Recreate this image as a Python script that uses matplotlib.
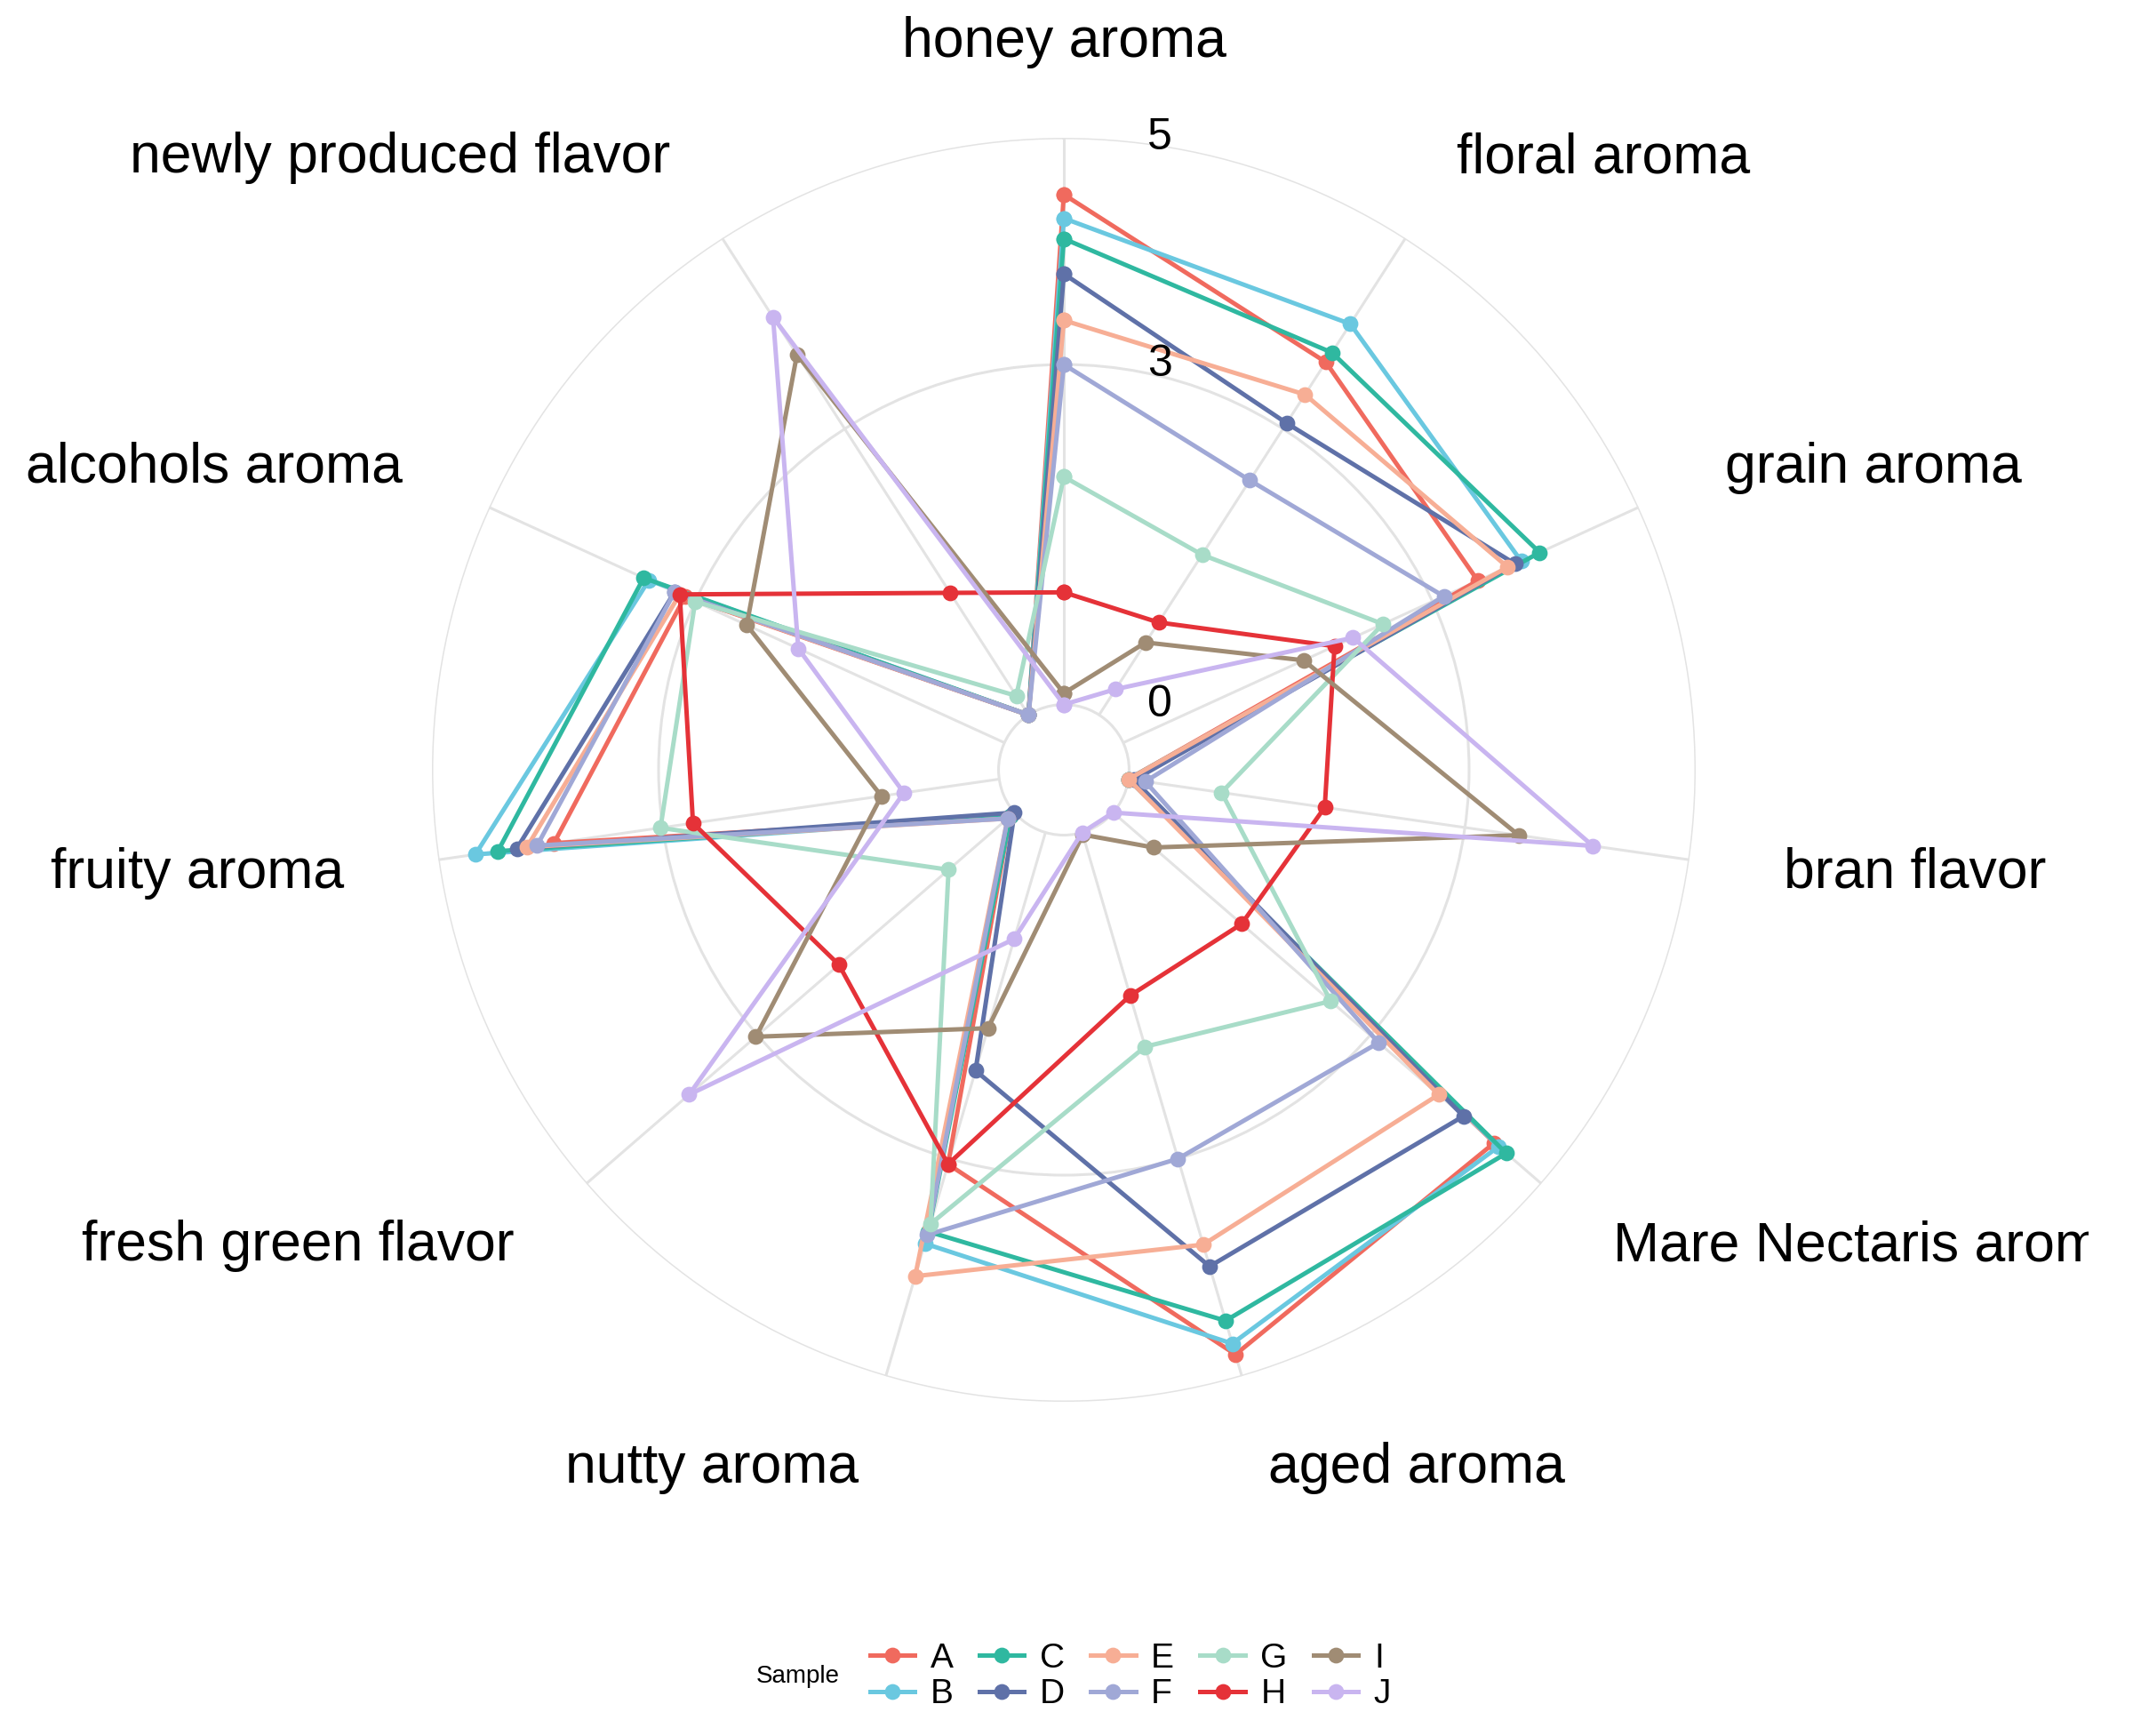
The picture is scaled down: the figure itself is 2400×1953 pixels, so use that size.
import numpy as np
import matplotlib.pyplot as plt
import matplotlib.transforms as mtransforms
from matplotlib.lines import Line2D

plt.rcParams['font.family'] = ['Liberation Sans', 'DejaVu Sans']

attributes = ['honey aroma', 'floral aroma', 'grain aroma', 'bran flavor',
              'Mare Nectaris aroma', 'aged aroma', 'nutty aroma',
              'fresh green flavor', 'fruity aroma', 'alcohols aroma',
              'newly produced flavor']
samples = ['A', 'B', 'C', 'D', 'E', 'F', 'G', 'H', 'I', 'J']
colors = ['#F06A5E', '#6AC8E0', '#2FB8A0', '#5F71A8', '#F7AE95',
          '#A0A8D6', '#A8DCC8', '#E53238', '#A08C74', '#C9B5F0']

# scores per sample, same order as attributes
A = [4.50, 3.70, 3.44, 0.00, 4.45, 4.80, 3.05, 0.05, 3.97, 3.10, 0.00]
B = [4.29, 4.10, 3.86, 0.00, 4.50, 4.70, 3.78, 0.05, 4.67, 3.45, 0.00]
C = [4.11, 3.80, 4.04, 0.00, 4.59, 4.49, 3.67, 0.05, 4.47, 3.50, 0.00]
D = [3.80, 3.06, 3.80, 0.05, 4.09, 3.99, 2.19, 0.00, 4.30, 3.20, 0.00]
E = [3.39, 3.36, 3.73, 0.00, 3.80, 3.79, 4.08, 0.08, 4.21, 3.15, 0.00]
F = [3.00, 2.46, 3.11, 0.15, 3.10, 3.00, 3.70, 0.08, 4.12, 3.20, 0.00]
G = [2.01, 1.68, 2.52, 0.83, 2.54, 1.97, 3.60, 0.77, 3.02, 3.00, 0.20]
H = [0.99, 0.97, 2.05, 1.75, 1.50, 1.50, 3.05, 2.05, 2.73, 3.15, 1.28]
I = [0.10, 0.76, 1.75, 3.48, 0.47, 0.02, 1.80, 3.02, 1.05, 2.50, 3.78]
J = [0.00, 0.27, 2.23, 4.14, 0.00, 0.00, 0.98, 3.80, 0.85, 2.00, 4.17]
scores = [A, B, C, D, E, F, G, H, I, J]

grid_values = [0, 3, 5]
r_min, r_max = -0.576, 5

fig = plt.figure(figsize=(12, 9.765), dpi=200)
ax = fig.add_axes([0.2025, 0.1925, 0.5925, 0.7281], projection='polar')
ax.set_theta_zero_location('N')
ax.set_theta_direction(-1)
ax.set_ylim(r_min, r_max)

n = len(attributes)
theta = np.linspace(0, 2 * np.pi, n, endpoint=False)

# grid: circles at 0/3/5 and spokes
ax.set_xticks([])
ax.set_yticks(grid_values)
ax.set_yticklabels([])
ax.yaxis.grid(True, color='#E3E3E3', linewidth=1.1)
ax.tick_params(axis='y', length=0)
for s in ax.spines.values():
    s.set_visible(False)
ax.vlines(theta, 0, r_max, colors='#E3E3E3', linewidth=1.1, zorder=1)

for name, vals, col in zip(samples, scores, colors):
    t = np.append(theta, theta[0])
    v = np.append(vals, vals[0])
    ax.plot(t, v, color=col, linewidth=1.8, marker='o', markersize=5.4,
            zorder=3, clip_on=False)

# radial value labels, shifted right of the vertical axis
off = mtransforms.offset_copy(ax.transData, fig=fig, x=108, y=0, units='dots')
for g in grid_values:
    ax.text(0, g, str(g), transform=off, fontsize=18, ha='center',
            va='center', color='black')

# attribute labels (the right edge cuts the long one, as in the original)
clip = mtransforms.TransformedBbox(
    mtransforms.Bbox([[0, 0], [0.979, 1]]), fig.transFigure)
for k, (th, lab) in enumerate(zip(theta, attributes)):
    if k == 0:
        ha = 'center'
    elif k <= 5:
        ha = 'left'
    else:
        ha = 'right'
    txt = ax.text(th, 5.84, lab, fontsize=22.5, ha=ha, va='center',
                  color='black')
    txt.set_clip_box(clip)
    txt.set_clip_on(True)

handles = [Line2D([], [], color=c, marker='o', linewidth=1.8, markersize=5.4)
           for c in colors]
fig.legend(handles, samples, ncol=5, loc='center',
           bbox_to_anchor=(0.530, 0.0343), frameon=False, fontsize=14,
           handlelength=1.3, handletextpad=0.45, columnspacing=0.75,
           labelspacing=0.12)
fig.text(0.374, 0.0343, 'Sample', fontsize=10, ha='center', va='center')

fig.savefig('out.png', dpi=200, facecolor='white')
